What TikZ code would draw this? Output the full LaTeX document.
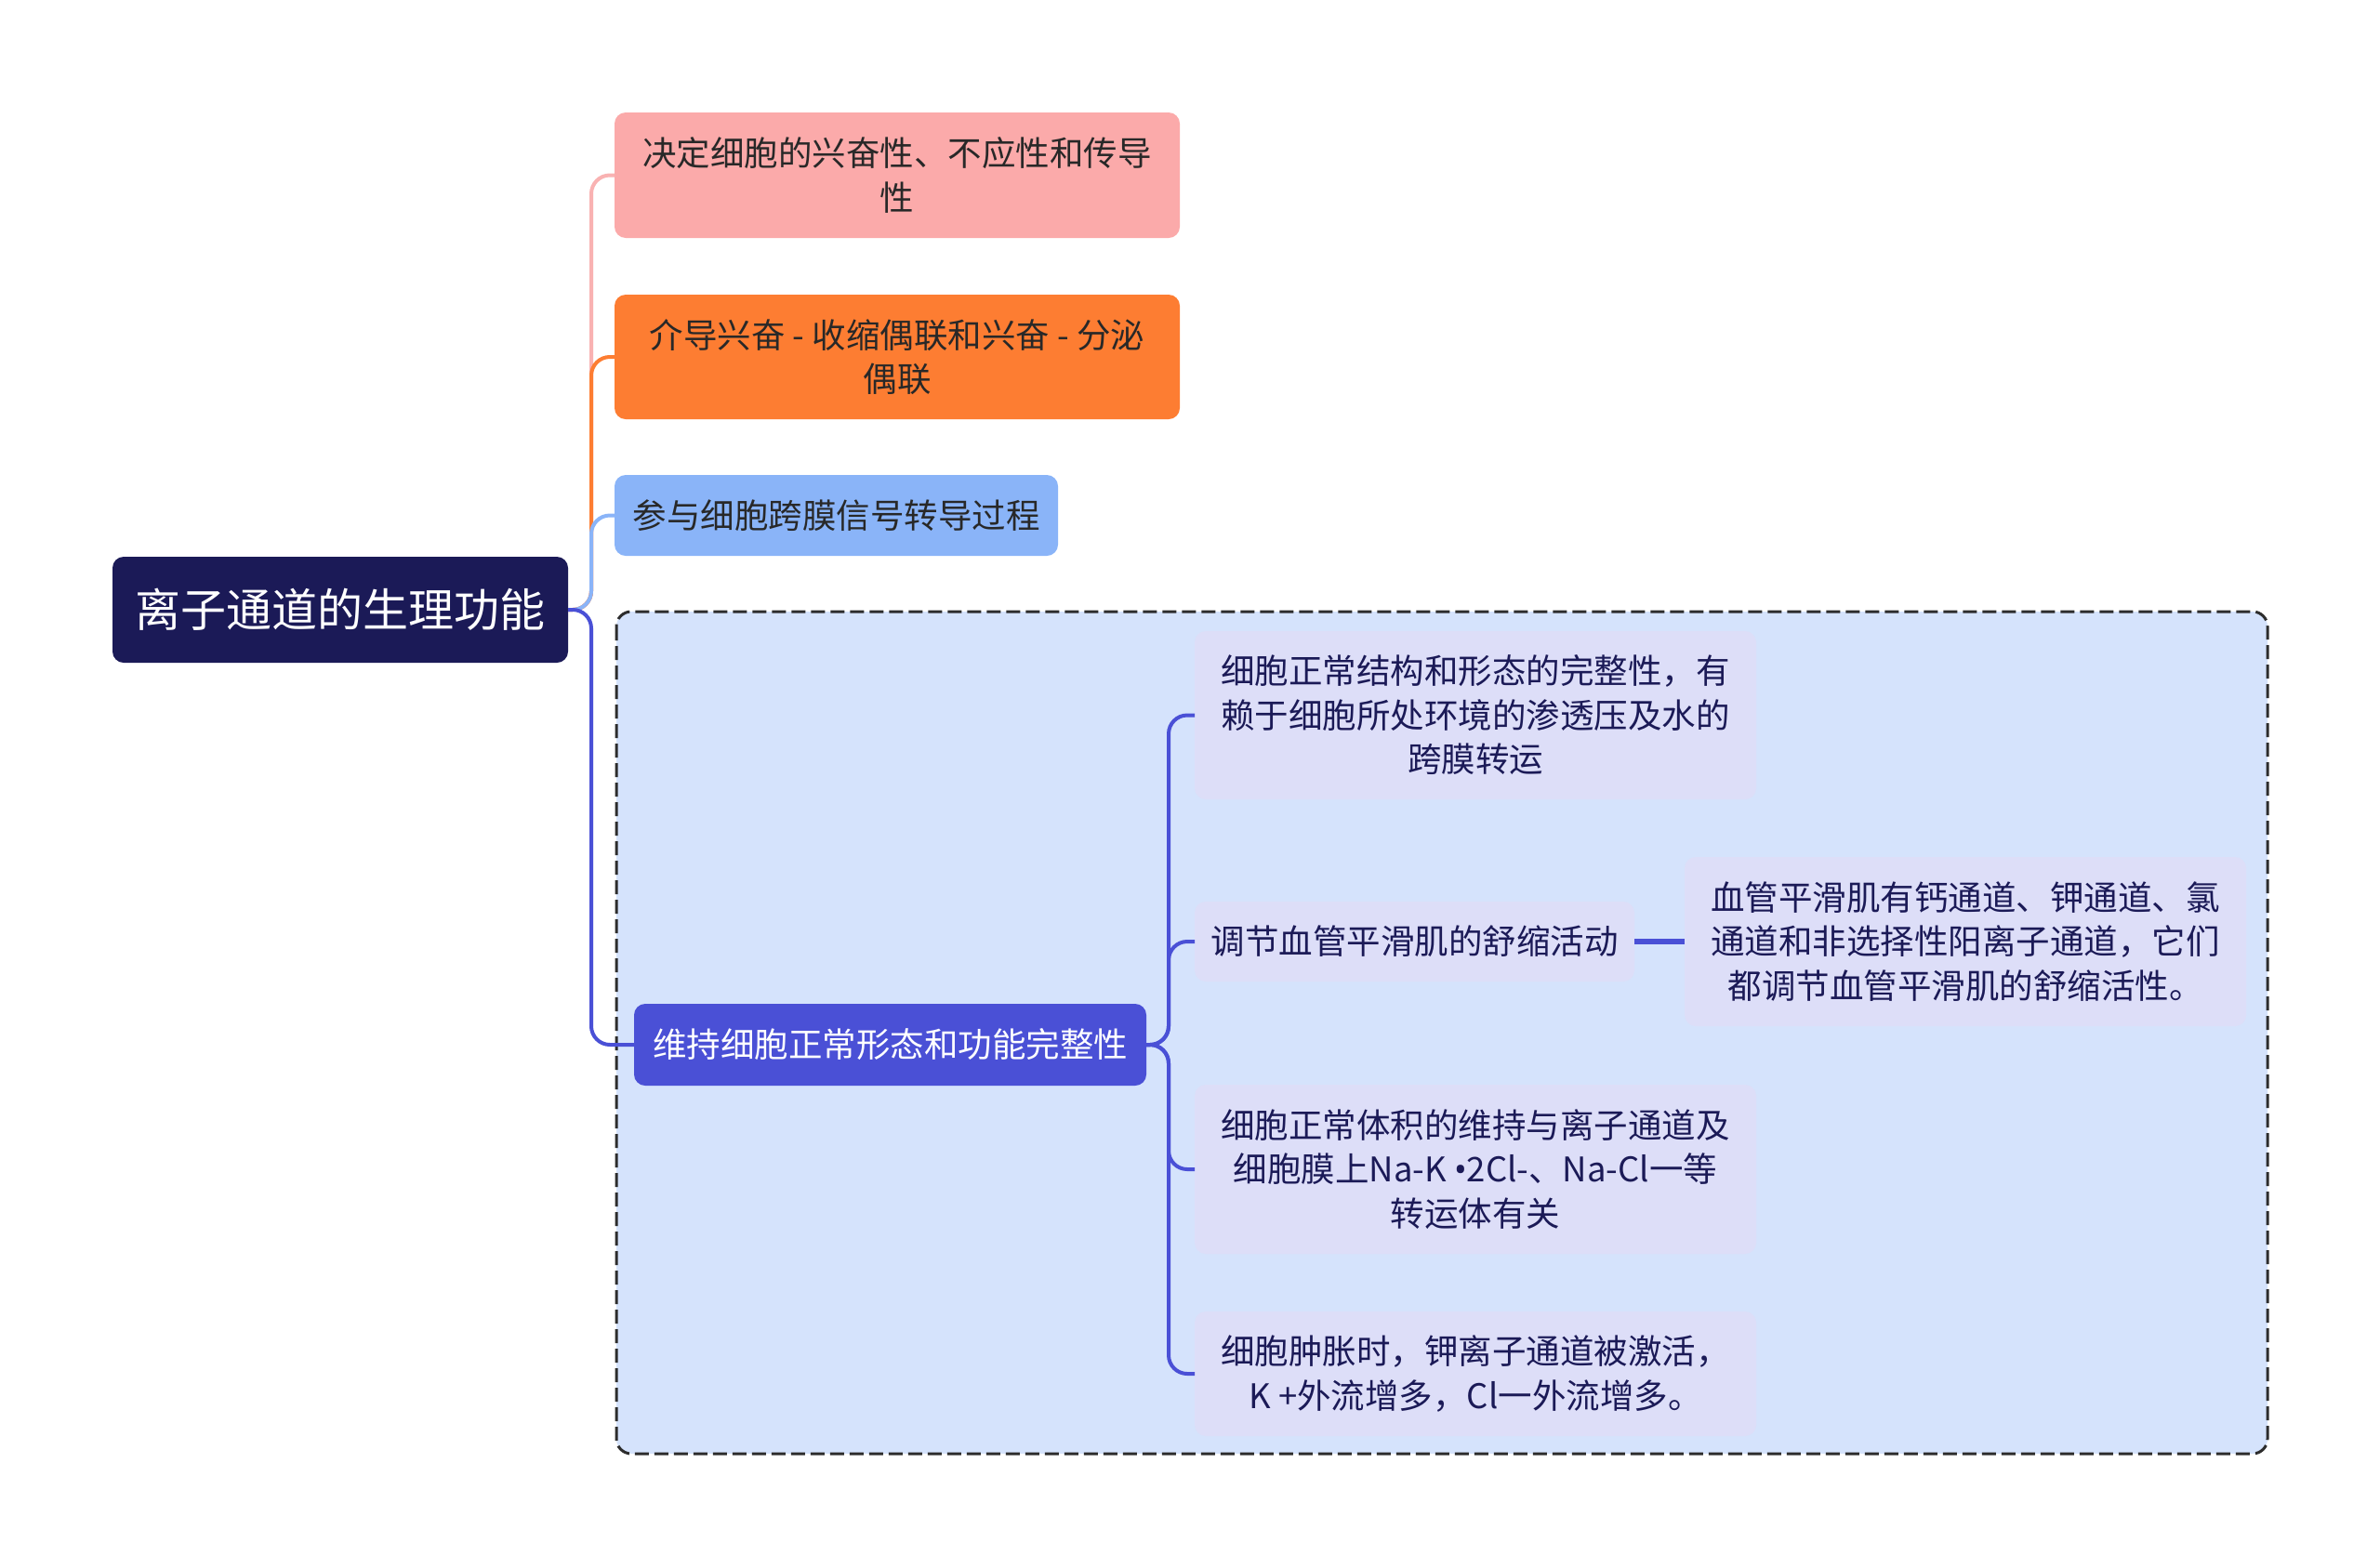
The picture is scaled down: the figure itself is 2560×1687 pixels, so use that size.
\documentclass[tikz,border=0pt]{standalone}
\usepackage{fontspec}
\setmainfont{Noto Sans CJK SC}
\newfontfamily\bulletfont{Noto Sans}
\definecolor{rootc}{RGB}{27,26,87}
\definecolor{pinkc}{RGB}{251,170,170}
\definecolor{pinkl}{RGB}{249,178,178}
\definecolor{orangec}{RGB}{253,125,50}
\definecolor{bluec}{RGB}{138,180,248}
\definecolor{mainc}{RGB}{74,80,214}
\definecolor{boxbg}{RGB}{213,227,252}
\definecolor{childc}{RGB}{221,222,248}
\definecolor{darktext}{RGB}{40,40,40}
\definecolor{dashc}{RGB}{45,45,45}
\begin{document}
\begin{tikzpicture}[x=1pt,y=-1pt,
  every node/.style={inner sep=0pt, outer sep=0pt, anchor=north west, align=center},
  boxnode/.style={rounded corners=12pt, font=\fontsize{36.5}{47.5}\selectfont},
  rootnode/.style={boxnode, fill=rootc, text=white, font=\fontsize{49}{60}\selectfont},
  onenode/.style={boxnode, fill=pinkc, text=darktext},
  twonode/.style={boxnode, fill=orangec, text=darktext},
  threenode/.style={boxnode, fill=bluec, text=darktext},
  fournode/.style={boxnode, fill=mainc, text=white},
  childnode/.style={boxnode, fill=childc, text=rootc},
  conn/.style={line width=4pt, rounded corners=20pt},
]
\useasboundingbox (0,0) rectangle (2560,1687);
% dashed group
\draw[dashc, fill=boxbg, line width=3pt, dash pattern=on 15pt off 6pt, rounded corners=16pt]
  (663,658) rectangle (2439,1564);
% nodes
\node[rootnode, minimum width=490pt, minimum height=114pt] (root) at (121,599) {离子通道的生理功能};
\node[onenode, minimum width=608pt, minimum height=135pt] (n1) at (661,121) {决定细胞的兴奋性、不应性和传导\\性};
\node[twonode, minimum width=608pt, minimum height=134pt] (n2) at (661,317) {介导兴奋 - 收缩偶联和兴奋 - 分泌\\偶联};
\node[threenode, minimum width=477pt, minimum height=87pt] (n3) at (661,511) {参与细胞跨膜信号转导过程};
\node[fournode, minimum width=551pt, minimum height=88pt] (n4) at (682,1080) {维持细胞正常形态和功能完整性};
\node[childnode, minimum width=604pt, minimum height=181pt] (c1) at (1285,679) {细胞正常结构和形态的完整性，有\\赖于细胞所处环境的渗透压及水的\\跨膜转运};
\node[childnode, minimum width=473pt, minimum height=86pt] (c2) at (1285,970) {调节血管平滑肌的舒缩活动};
\node[childnode, minimum width=604pt, minimum height=182pt] (c2a) at (1812,922) {血管平滑肌有钙通道、钾通道、氯\\通道和非选择性阳离子通道，它们\\都调节血管平滑肌的舒缩活性。};
\node[childnode, minimum width=604pt, minimum height=182pt] (c3) at (1285,1167) {细胞正常体积的维持与离子通道及\\细胞膜上Na-K {\bulletfont•}2Cl-、Na-Cl一等\\转运体有关};
\node[childnode, minimum width=604pt, minimum height=134pt] (c4) at (1285,1411) {细胞肿胀时，钾离子通道被激活，\\K +外流增多，Cl一外流增多。};
% connectors from root
\draw[conn, pinkl] (root.east) -- ++(25,0) |- (n1.west);
\draw[conn, orangec] (root.east) -- ++(25,0) |- (n2.west);
\draw[conn, bluec] (root.east) -- ++(25,0) |- (n3.west);
\draw[conn, mainc] (root.east) -- ++(25,0) |- (n4.west);
% connectors inside the group
\draw[conn, mainc] (n4.east) -- ++(24,0) |- (c1.west);
\draw[conn, mainc] (n4.east) -- ++(24,0) |- (c2.west);
\draw[conn, mainc] (n4.east) -- ++(24,0) |- (c3.west);
\draw[conn, mainc] (n4.east) -- ++(24,0) |- (c4.west);
\draw[mainc, line width=6pt] (c2.east) -- (c2a.west);
\end{tikzpicture}
\end{document}
